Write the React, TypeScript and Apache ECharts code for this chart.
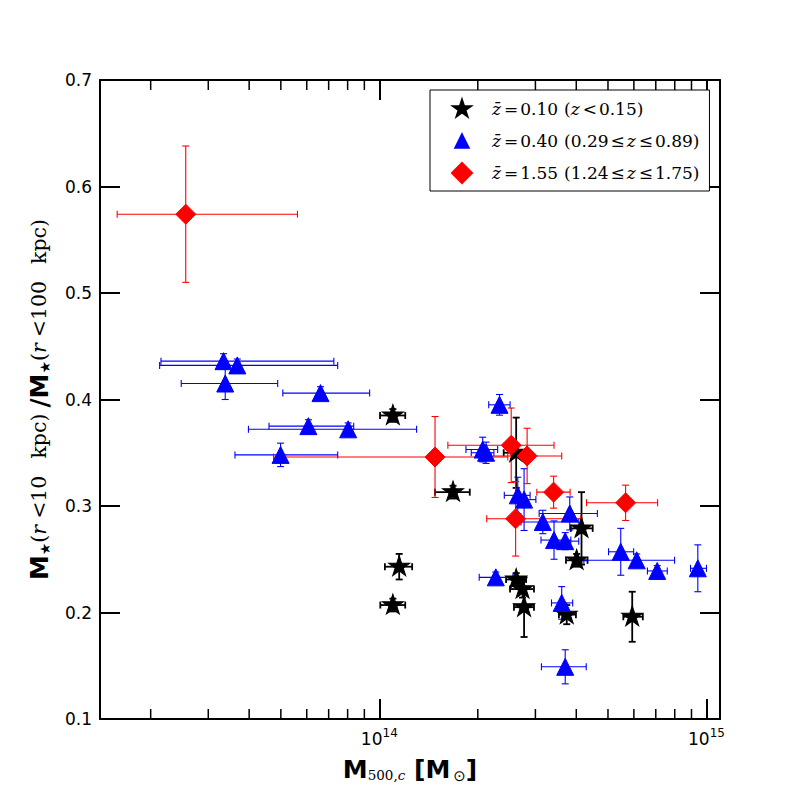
import React, { useEffect, useRef } from 'react';
import * as echarts from 'echarts';

// rows: [M500 (1e14 Msun), ratio, M500 low, M500 high, ratio error]
const lowZRows = [
  [1.10, 0.385, 1.005, 1.20, 0.006],
  [1.68, 0.313, 1.48, 1.89, 0.006],
  [1.15, 0.243, 1.04, 1.26, 0.012],
  [1.10, 0.207, 1.007, 1.20, 0.006],
  [2.62, 0.350, 2.40, 2.84, 0.033],
  [4.15, 0.279, 3.85, 4.49, 0.034],
  [4.01, 0.249, 3.72, 4.33, 0.006],
  [2.62, 0.231, 2.44, 2.81, 0.006],
  [2.74, 0.222, 2.51, 2.97, 0.008],
  [2.77, 0.205, 2.58, 2.97, 0.028],
  [3.74, 0.198, 3.54, 3.99, 0.009],
  [5.93, 0.196, 5.57, 6.39, 0.0235],
];
const midZRows = [
  [0.334, 0.436, 0.215, 0.726, 0.007],
  [0.368, 0.432, 0.213, 0.746, 0.006],
  [0.338, 0.415, 0.248, 0.489, 0.015],
  [0.661, 0.406, 0.507, 0.934, 0.006],
  [0.607, 0.375, 0.460, 0.835, 0.006],
  [0.803, 0.372, 0.398, 1.30, 0.006],
  [0.499, 0.348, 0.362, 0.746, 0.011],
  [2.33, 0.395, 2.16, 2.51, 0.0097],
  [2.07, 0.353, 1.84, 2.30, 0.0116],
  [2.12, 0.350, 1.91, 2.24, 0.010],
  [2.65, 0.310, 2.41, 2.89, 0.017],
  [2.77, 0.306, 2.59, 3.01, 0.029],
  [3.16, 0.285, 2.71, 4.07, 0.011],
  [3.82, 0.293, 3.08, 4.64, 0.0155],
  [3.42, 0.268, 3.12, 3.85, 0.018],
  [3.70, 0.267, 3.42, 4.07, 0.008],
  [5.47, 0.257, 5.02, 5.99, 0.022],
  [6.12, 0.249, 4.22, 7.99, 0.006],
  [7.07, 0.239, 6.60, 7.59, 0.005],
  [9.41, 0.2415, 8.94, 10.0, 0.022],
  [2.27, 0.233, 2.02, 2.56, 0.005],
  [3.61, 0.209, 3.36, 3.90, 0.0153],
  [3.70, 0.149, 3.13, 4.29, 0.016],
];
const highZRows = [
  [0.256, 0.574, 0.158, 0.562, 0.064],
  [1.48, 0.346, 0.475, 2.47, 0.038],
  [2.53, 0.357, 1.62, 3.42, 0.035],
  [2.83, 0.347, 2.20, 3.61, 0.026],
  [3.41, 0.313, 3.03, 3.83, 0.015],
  [5.66, 0.303, 4.30, 7.09, 0.0166],
  [2.61, 0.288, 2.13, 4.13, 0.035],
];
const minorTickMasses = [0.2, 0.3, 0.4, 0.5, 0.6, 0.7, 0.8, 0.9, 2, 3, 4, 5, 6, 7, 8, 9];
const xMin = 1.4e13;
const xMax = 1.1e15;
const yMin = 0.1;
const yMax = 0.7;
const yStep = 0.1;
const legendLabels: Record<string, string> = {
  lowz: '{lead| }{i|z̄}{g3| }{s|=}{g2| }{n|0.10}{g6| }{n|(}{i|z}{g3| }{s|<}{g2| }{n|0.15)}',
  midz: '{lead| }{i|z̄}{g3| }{s|=}{g2| }{n|0.40}{g6| }{n|(0.29}{g2| }{s|≤}{g2| }{i|z}{g3| }{s|≤}{g2| }{n|0.89)}',
  highz: '{lead| }{i|z̄}{g3| }{s|=}{g2| }{n|1.55}{g6| }{n|(1.24}{g2| }{s|≤}{g2| }{i|z}{g3| }{s|≤}{g2| }{n|1.75)}',
};

const UNIT = 1e14;

function starPoints() {
  const pts: string[] = [];
  for (let i = 0; i < 10; i++) {
    const r = i % 2 === 0 ? 1 : 0.382;
    const a = -Math.PI / 2 + (i * Math.PI) / 5;
    pts.push((r * Math.cos(a)).toFixed(4) + ',' + (r * Math.sin(a)).toFixed(4));
  }
  return 'M' + pts.join('L') + 'Z';
}

const errRender = (color: string, lw: number) => (params: any, api: any) => {
  const m = api.value(0);
  const v = api.value(1);
  const lo = api.value(2);
  const hi = api.value(3);
  const dv = api.value(4);
  const c = api.coord([m, v]);
  const l = api.coord([lo, v]);
  const r = api.coord([hi, v]);
  const t = api.coord([m, v + dv]);
  const b = api.coord([m, v - dv]);
  const cap = 3.5;
  const style = { stroke: color, lineWidth: lw, fill: null };
  const seg = (x1: number, y1: number, x2: number, y2: number) => ({
    type: 'line',
    shape: { x1, y1, x2, y2 },
    style,
  });
  return {
    type: 'group',
    children: [
      seg(l[0], c[1], r[0], c[1]),
      seg(l[0], c[1] - cap, l[0], c[1] + cap),
      seg(r[0], c[1] - cap, r[0], c[1] + cap),
      seg(c[0], t[1], c[0], b[1]),
      seg(c[0] - cap, t[1], c[0] + cap, t[1]),
      seg(c[0] - cap, b[1], c[0] + cap, b[1]),
    ],
  };
};

const minorRender = (params: any, api: any) => {
  const p = api.coord([api.value(0), yMin]);
  const cs = params.coordSys;
  const style = { stroke: '#000', lineWidth: 1.5 };
  const bottom = cs.y + cs.height;
  return {
    type: 'group',
    children: [
      { type: 'line', shape: { x1: p[0], y1: bottom, x2: p[0], y2: bottom - 10 }, style },
      { type: 'line', shape: { x1: p[0], y1: cs.y, x2: p[0], y2: cs.y + 10 }, style },
    ],
  };
};

function errSeries(name: string, rows: number[][], color: string, lw: number) {
  return {
    name: name + 'Err',
    type: 'custom',
    silent: true,
    renderItem: errRender(color, lw),
    encode: { x: 0, y: 1 },
    data: rows.map((r) => [r[0] * UNIT, r[1], r[2] * UNIT, r[3] * UNIT, r[4]]),
  };
}

function pointSeries(name: string, rows: number[][], color: string, symbol: string, size: any) {
  return {
    name,
    type: 'scatter',
    silent: true,
    symbol,
    symbolSize: size,
    itemStyle: { color, opacity: 1, borderColor: color, borderWidth: 1 },
    data: rows.map((r) => [r[0] * UNIT, r[1]]),
  };
}

export default function App() {
  const ref = useRef<HTMLDivElement>(null);
  useEffect(() => {
    if (!ref.current) return;
    const chart = echarts.init(ref.current, undefined, { renderer: 'svg' });
    // star with a symmetric bounding box so it is centred on its point
    const starSymbol = 'path://M0,-1M0,1' + starPoints();
    const starIcon = 'path://M-1.08,-1.08M1.08,1.08' + starPoints();
    const triIcon = 'path://M-1.5,-1.5M1.5,1.5M0,-1L1,1L-1,1Z';
    const axisLine = { show: true, lineStyle: { color: '#000', width: 2 } };
    const serifRich = { fontFamily: 'DejaVu Serif', color: '#000' };
    const option = {
      animation: false,
      backgroundColor: '#fff',
      grid: { left: 100, top: 80, width: 620, height: 639 },
      legend: {
        data: [
          { name: 'lowz', icon: starIcon },
          { name: 'midz', icon: triIcon },
          { name: 'highz', icon: 'diamond' },
        ],
        orient: 'vertical',
        left: 430,
        top: 90,
        backgroundColor: '#fff',
        borderColor: '#000',
        borderWidth: 1,
        borderRadius: 0,
        padding: [8, 10, 7, 21],
        itemWidth: 20,
        itemHeight: 20,
        itemGap: 10,
        formatter: (name: string) => legendLabels[name],
        textStyle: {
          color: '#000',
          rich: {
            lead: { width: 15, lineHeight: 20 },
            g2: { width: 2, lineHeight: 20 },
            g3: { width: 3, lineHeight: 20 },
            g6: { width: 6, lineHeight: 20 },
            n: { ...serifRich, fontSize: 17, lineHeight: 20 },
            i: { ...serifRich, fontStyle: 'italic', fontSize: 17, lineHeight: 20 },
            s: { ...serifRich, fontSize: 17, lineHeight: 20 },
          },
        },
      },
      xAxis: [
        {
          type: 'log',
          logBase: 10,
          min: xMin,
          max: xMax,
          position: 'bottom',
          axisLine,
          axisTick: { show: true, inside: true, length: 20, lineStyle: { color: '#000', width: 2 } },
          splitLine: { show: false },
          axisLabel: {
            margin: 8,
            formatter: (val: number) => {
              const e = Math.log10(val);
              if (Math.abs(e - Math.round(e)) > 1e-6) return '';
              return '{b|10}{s|' + Math.round(e) + '}';
            },
            rich: {
              b: { fontFamily: 'DejaVu Sans', fontSize: 17, color: '#000' },
              s: { fontFamily: 'DejaVu Sans', fontSize: 12, color: '#000', padding: [0, 0, 12, 0] },
            },
          },
          name: '{m|M}{sub|500,}{subi|c}{m| [M}{sub2|⊙}{m|]}',
          nameLocation: 'middle',
          nameGap: 36,
          nameTextStyle: {
            rich: {
              m: { fontFamily: 'DejaVu Sans', fontWeight: 'bold', fontSize: 25, color: '#000' },
              sub: { ...serifRich, fontSize: 13.5, padding: [11, 0, 0, 0] },
              subi: { ...serifRich, fontStyle: 'italic', fontSize: 13.5, padding: [11, 0, 0, 0] },
              sub2: { fontFamily: 'DejaVu Sans', fontSize: 15, color: '#000', padding: [13, 0, 0, 3] },
            },
          },
        },
        {
          type: 'log',
          logBase: 10,
          min: xMin,
          max: xMax,
          position: 'top',
          axisLine,
          axisTick: { show: true, inside: true, length: 20, lineStyle: { color: '#000', width: 2 } },
          axisLabel: { show: false },
          splitLine: { show: false },
        },
      ],
      yAxis: [
        {
          type: 'value',
          min: yMin,
          max: yMax,
          interval: yStep,
          position: 'left',
          axisLine,
          axisTick: { show: true, inside: true, length: 20, lineStyle: { color: '#000', width: 2 } },
          splitLine: { show: false },
          axisLabel: {
            margin: 8,
            color: '#000',
            fontFamily: 'DejaVu Sans',
            fontSize: 17,
            formatter: (v: number) => v.toFixed(1),
          },
          name:
            '{m|M}{sub|★}{n|(}{i|r}{g6| }{n|<10}{g16| }{n|kpc)}{g6| }{m|/M}{sub|★}{n|(}{i|r}{g6| }{n|<100}{g16| }{n|kpc)}',
          nameLocation: 'middle',
          nameGap: 48,
          nameTextStyle: {
            rich: {
              m: { fontFamily: 'DejaVu Sans', fontWeight: 'bold', fontSize: 25, color: '#000' },
              sub: { fontFamily: 'DejaVu Sans', fontSize: 14, color: '#000', padding: [12, 0, 0, 0] },
              n: { ...serifRich, fontSize: 20.5 },
              i: { ...serifRich, fontStyle: 'italic', fontSize: 20.5 },
              g6: { width: 6 },
              g16: { width: 17 },
            },
          },
        },
        {
          type: 'value',
          min: yMin,
          max: yMax,
          interval: yStep,
          position: 'right',
          axisLine,
          axisTick: { show: true, inside: true, length: 20, lineStyle: { color: '#000', width: 2 } },
          axisLabel: { show: false },
          splitLine: { show: false },
        },
      ],
      series: [
        {
          name: 'minorTicks',
          type: 'custom',
          silent: true,
          renderItem: minorRender,
          encode: { x: 0, y: 1 },
          data: minorTickMasses.map((m) => [m * UNIT, yMin]),
        },
        errSeries('lowz', lowZRows, '#000000', 1.8),
        pointSeries('lowz', lowZRows, '#000000', starSymbol, [21, 22]),
        errSeries('midz', midZRows, '#0000ff', 1.1),
        pointSeries('midz', midZRows, '#0000ff', 'triangle', [17, 17]),
        errSeries('highz', highZRows, '#ff0000', 1.1),
        pointSeries('highz', highZRows, '#ff0000', 'diamond', [20, 20]),
      ],
    };
    chart.setOption(option as any);
    return () => chart.dispose();
  }, []);
  return (
    <div
      ref={ref}
      style={{ position: 'fixed', left: 0, top: 0, width: 800, height: 800, background: '#fff' }}
    />
  );
}
